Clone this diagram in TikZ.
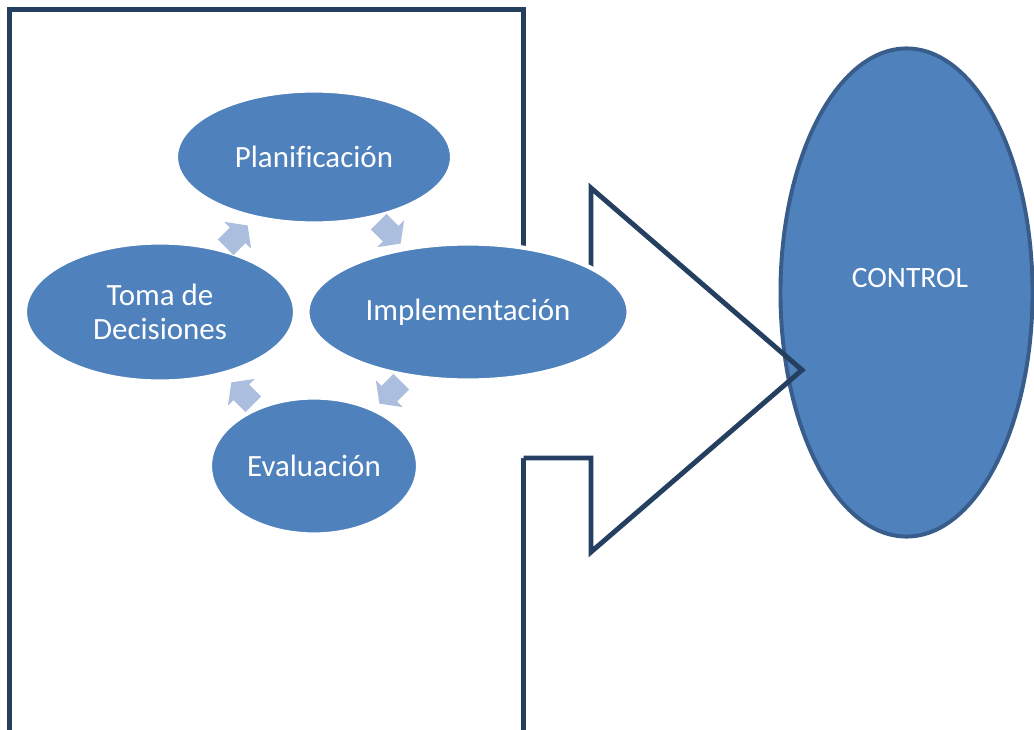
\documentclass[tikz,border=0pt]{standalone}
\usepackage{fontspec}
\setmainfont{Carlito}[Ligatures=NoCommon]
\usetikzlibrary{shapes.geometric}

\definecolor{boxline}{RGB}{36,63,96}
\definecolor{stepblue}{RGB}{79,129,189}
\definecolor{ctrlline}{RGB}{56,93,138}
\definecolor{cyclight}{RGB}{172,190,222}

\begin{document}
\begin{tikzpicture}[x=0.025cm,y=-0.025cm]
\tikzset{phase/.style={ellipse,fill=stepblue,draw=white,line width=3pt,inner sep=0pt,text=white,align=center,font=\fontsize{22}{24}\selectfont},
  ctrl/.style={ellipse,fill=stepblue,draw=ctrlline,line width=2.8pt,inner sep=0pt,minimum width=6.3cm,minimum height=12.2cm},
  boxframe/.style={draw=boxline,line width=3.5pt},
  cyc/.pic={\fill[cyclight] (-16,-11) -- (1,-11) -- (1,-19) -- (15,0) -- (1,19) -- (1,11) -- (-16,11) -- cycle;}};
   \useasboundingbox (0,0) rectangle (1034,730);
   \clip (0,0) rectangle (1034,730);

   \draw[boxframe] (9.5,9.5) rectangle (523.5,750);

   % big arrow towards control
   \fill[white] (519,282) -- (591,282) -- (591,188) -- (802,370) -- (591,552) -- (591,458) -- (519,458) -- cycle;
   \node[ctrl] (control) at (906.5,292.5) {};
   \node[text=white,font=\fontsize{21}{24}\selectfont] (ctrltext) at (910,278) {CONTROL};
   \draw[boxframe,line join=miter] (523.5,458) -- (591,458) -- (591,552) -- (802,370) -- (591,188) -- (591,282) -- (523.5,282);

   \node[phase,minimum width=6.9cm,minimum height=3.325cm] (plan) at (314,157) {Planificación};
   \node[phase,minimum width=6.75cm,minimum height=3.475cm] (toma) at (160,312) {Toma de\\Decisiones};
   \node[phase,minimum width=8.025cm,minimum height=3.425cm] (impl) at (468,312) {Implementación};
   \node[phase,minimum width=5.2cm,minimum height=3.425cm] (eval) at (314,466) {Evaluación};

   \pic[rotate=45] at (237,236) {cyc};
   \pic[rotate=-45] at (390,233) {cyc};
   \pic[rotate=-135] at (390,393) {cyc};
   \pic[rotate=135] at (242,393) {cyc};

\end{tikzpicture}
\end{document}
